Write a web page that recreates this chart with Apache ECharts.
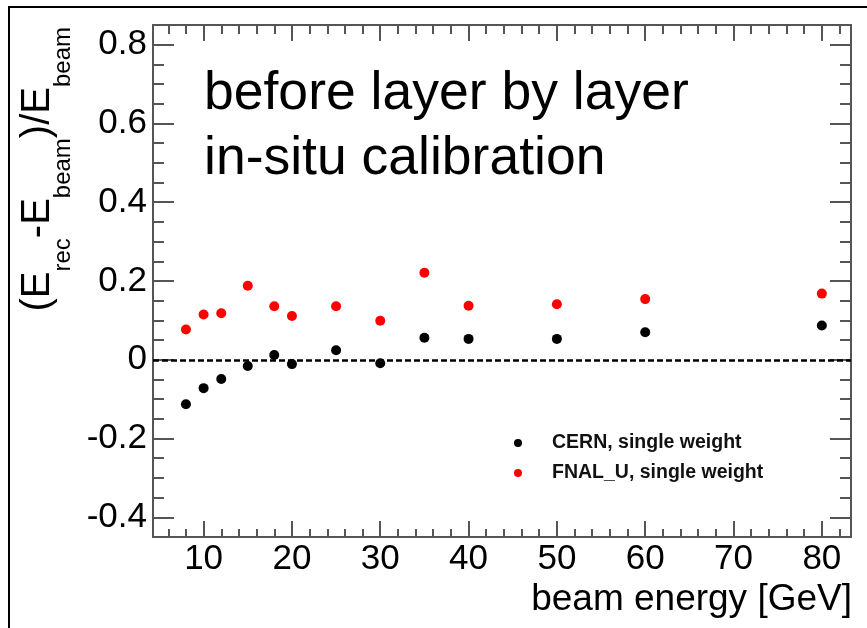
<!DOCTYPE html>
<html><head><meta charset="utf-8">
<script src="https://cdn.jsdelivr.net/npm/echarts@6/dist/echarts.min.js"></script>
<style>html,body{margin:0;padding:0;background:#fff}#c{width:867px;height:628px}</style>
</head><body><div id="c"></div>
<script>
// ---- data ----
const energies   = [8, 10, 12, 15, 18, 20, 25, 30, 35, 40, 50, 60, 80];
const cernValues = [-0.113, -0.072, -0.049, -0.016, 0.012, -0.011, 0.024, -0.009, 0.056, 0.053, 0.053, 0.070, 0.087];
const fnalValues = [0.077, 0.115, 0.118, 0.188, 0.136, 0.111, 0.136, 0.099, 0.221, 0.137, 0.141, 0.154, 0.168];
const seriesNames = ['CERN, single weight', 'FNAL_U, single weight'];
const xMajorTicks = [10, 20, 30, 40, 50, 60, 70, 80];
const xMinorTicks = [6, 8, 12, 14, 16, 18, 22, 24, 26, 28, 32, 34, 36, 38, 42, 44, 46, 48, 52, 54, 56, 58, 62, 64, 66, 68, 72, 74, 76, 78, 82];
const yMajorTicks = [-0.4, -0.2, 0, 0.2, 0.4, 0.6, 0.8];
const yMinorTicks = [-0.35, -0.3, -0.25, -0.15, -0.1, -0.05, 0.05, 0.1, 0.15, 0.25, 0.3, 0.35, 0.45, 0.5, 0.55, 0.65, 0.7, 0.75];
const X_MIN = 4.27, X_MAX = 83.3, Y_MIN = -0.45, Y_MAX = 0.85;

const FONT = 'Liberation Sans';
const AX = '#555';
const chart = echarts.init(document.getElementById('c'), null, {renderer: 'canvas'});

function xAx(grid, pos, ticks, len, opts) {
  return Object.assign({
    type: 'value', gridIndex: grid, position: pos, min: X_MIN, max: X_MAX,
    axisLine: {show: grid === 0, onZero: false, lineStyle: {color: AX, width: 2}},
    axisTick: {show: true, inside: true, length: len, customValues: ticks, lineStyle: {color: AX, width: 2}},
    axisLabel: {show: false},
    splitLine: {show: false}
  }, opts || {});
}
function yAx(grid, pos, ticks, len, opts) {
  return Object.assign({
    type: 'value', gridIndex: grid, position: pos, min: Y_MIN, max: Y_MAX,
    axisLine: {show: grid === 0, onZero: false, lineStyle: {color: AX, width: 2}},
    axisTick: {show: true, inside: true, length: len, customValues: ticks, lineStyle: {color: AX, width: 2}},
    axisLabel: {show: false},
    splitLine: {show: false}
  }, opts || {});
}

const gridBox = {left: 153, top: 25, width: 698, height: 512, containLabel: false, outerBoundsMode: 'none'};

const option = {
  animation: false,
  backgroundColor: '#fff',
  grid: [Object.assign({}, gridBox), Object.assign({}, gridBox)],
  xAxis: [
    xAx(0, 'bottom', xMajorTicks, 16, {
      axisLabel: {show: true, customValues: xMajorTicks, fontSize: 35, fontFamily: FONT, color: '#000', margin: 5}
    }),
    xAx(0, 'top', xMajorTicks, 16),
    xAx(1, 'bottom', xMinorTicks, 8),
    xAx(1, 'top', xMinorTicks, 9)
  ],
  yAxis: [
    yAx(0, 'left', yMajorTicks, 21, {
      axisLabel: {show: true, customValues: yMajorTicks, fontSize: 35, fontFamily: FONT, color: '#000', margin: 6,
        formatter: v => String(+(+v).toFixed(1))}
    }),
    yAx(0, 'right', yMajorTicks, 21),
    yAx(1, 'left', yMinorTicks, 11),
    yAx(1, 'right', yMinorTicks, 11)
  ],
  legend: {
    data: seriesNames, orient: 'vertical', left: 509, top: 428,
    itemWidth: 8, itemHeight: 8, itemGap: 10, icon: 'circle', selectedMode: false,
    textStyle: {fontSize: 19.5, fontWeight: 'bold', fontFamily: FONT, color: '#111', lineHeight: 20, padding: [0, 0, 0, 25]}
  },
  series: [
    {
      name: seriesNames[0], type: 'scatter', xAxisIndex: 0, yAxisIndex: 0,
      symbol: 'circle', symbolSize: 10, itemStyle: {color: '#000', opacity: 1},
      data: energies.map((e, i) => [e, cernValues[i]]),
      markLine: {
        z: 1, silent: true, symbol: 'none', label: {show: false},
        lineStyle: {color: '#000', type: [6, 3], width: 2.5},
        data: [{yAxis: 0}]
      }
    },
    {
      name: seriesNames[1], type: 'scatter', xAxisIndex: 0, yAxisIndex: 0,
      symbol: 'circle', symbolSize: 10, itemStyle: {color: '#ff0000', opacity: 1},
      data: energies.map((e, i) => [e, fnalValues[i]])
    }
  ],
  graphic: [
    {type: 'rect', shape: {x: 9, y: 7, width: 880, height: 640}, style: {fill: 'none', stroke: '#000', lineWidth: 2}, silent: true},
    {type: 'text', x: 204, y: 94, style: {text: 'before layer by layer', font: '53.5px "Liberation Sans"', fill: '#000', align: 'left', verticalAlign: 'middle'}},
    {type: 'text', x: 204, y: 159, style: {text: 'in-situ calibration', font: '53.5px "Liberation Sans"', fill: '#000', align: 'left', verticalAlign: 'middle'}},
    {type: 'text', x: 852, y: 600, style: {text: 'beam energy [GeV]', font: '37px "Liberation Sans"', fill: '#000', align: 'right', verticalAlign: 'middle'}},
    {type: 'text', x: 18, y: 27, rotation: Math.PI / 2,
      style: {
        text: '{m|(E}{s|rec}{m|-E}{s|beam}{m|)/E}{s|beam}',
        align: 'right', verticalAlign: 'top', fill: '#000',
        rich: {
          m: {fontSize: 40, fontFamily: FONT, lineHeight: 40, verticalAlign: 'top', fill: '#000'},
          s: {fontSize: 24, fontFamily: FONT, lineHeight: 24, verticalAlign: 'top', padding: [33, 0, 0, 0], fill: '#000'}
        }
      }
    }
  ]
};
chart.setOption(option);
</script></body></html>
